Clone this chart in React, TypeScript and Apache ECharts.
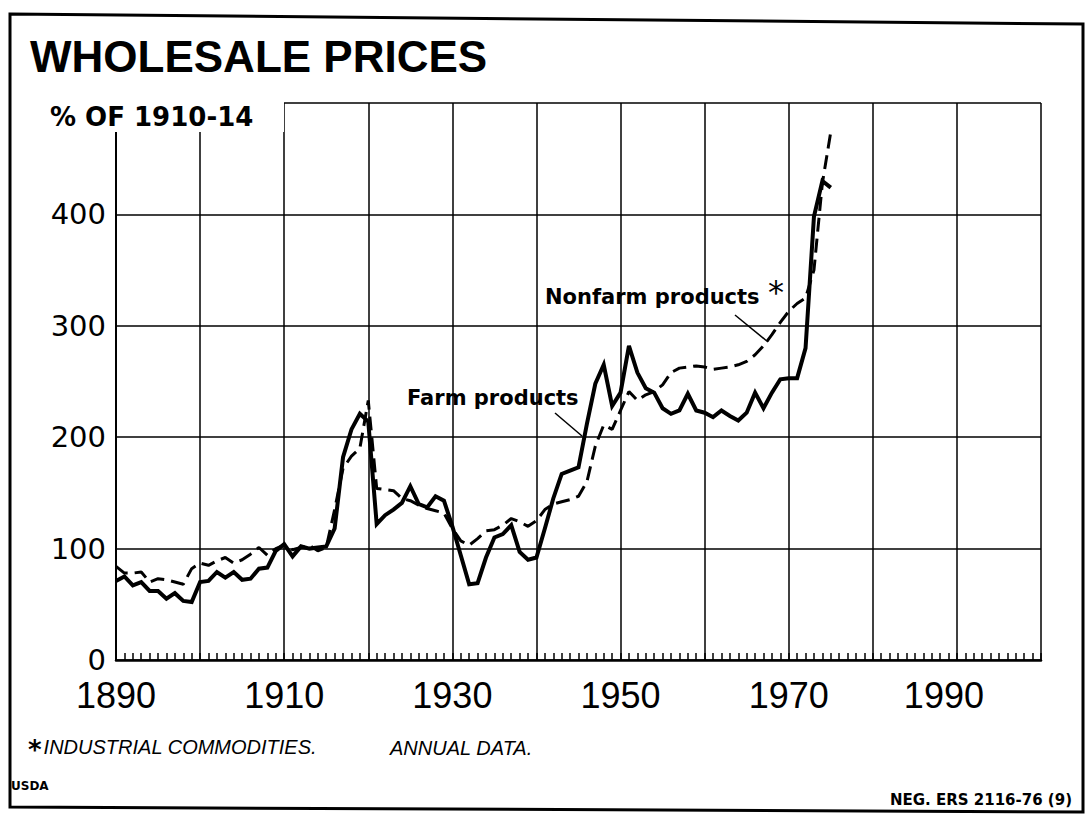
import React, { useEffect, useRef } from "react";
import * as echarts from "echarts";

const years = [
  1890, 1891, 1892, 1893, 1894, 1895, 1896, 1897, 1898, 1899,
  1900, 1901, 1902, 1903, 1904, 1905, 1906, 1907, 1908, 1909,
  1910, 1911, 1912, 1913, 1914, 1915, 1916, 1917, 1918, 1919,
  1920, 1921, 1922, 1923, 1924, 1925, 1926, 1927, 1928, 1929,
  1930, 1931, 1932, 1933, 1934, 1935, 1936, 1937, 1938, 1939,
  1940, 1941, 1942, 1943, 1944, 1945, 1946, 1947, 1948, 1949,
  1950, 1951, 1952, 1953, 1954, 1955, 1956, 1957, 1958, 1959,
  1960, 1961, 1962, 1963, 1964, 1965, 1966, 1967, 1968, 1969,
  1970, 1971, 1972, 1973, 1974, 1975,
];

const farmProducts = [
  71, 75, 67, 70, 62, 62, 55, 60, 53, 52,
  70, 71, 79, 74, 79, 72, 73, 82, 83, 98,
  104, 93, 102, 100, 101, 102, 118, 182, 207, 221,
  214, 122, 130, 135, 141, 156, 140, 137, 147, 143,
  120, 94, 68, 69, 92, 110, 113, 121, 97, 90,
  92, 118, 145, 167, 170, 173, 212, 248, 265, 228,
  240, 282, 258, 244, 240, 226, 221, 224, 239, 224,
  222, 218, 224, 219, 215, 222, 240, 226, 240, 252,
  253, 253, 280, 398, 430, 424,
];

const nonfarmProducts = [
  84, 78, 78, 79, 70, 73, 72, 70, 68, 82,
  87, 85, 89, 92, 87, 90, 95, 101, 94, 100,
  103, 99, 101, 103, 98, 101, 135, 172, 183, 190,
  233, 154, 153, 152, 145, 143, 139, 136, 134, 132,
  118, 107, 103, 109, 116, 117, 121, 127, 124, 120,
  125, 135, 140, 142, 144, 147, 160, 192, 211, 207,
  224, 241, 233, 238, 241, 247, 258, 262, 263, 264,
  263, 261, 262, 263, 265, 268, 274, 282, 292, 303,
  313, 320, 325, 350, 428, 474,
];

const xTickLabels = ["1890", "1910", "1930", "1950", "1970", "1990"];
const yTickLabels = ["0", "100", "200", "300", "400"];

export default function App() {
  const ref = useRef<HTMLDivElement>(null);

  useEffect(() => {
    if (!ref.current) return;
    const chart = echarts.init(ref.current, null, { renderer: "svg" });
    const xLabelFont = { fontFamily: "Liberation Sans", fontSize: 36, color: "#000", lineHeight: 36 };
    const option: any = {
      animation: false,
      backgroundColor: "#ffffff",
      textStyle: { fontFamily: "Liberation Sans", color: "#000" },
      grid: { left: 116, right: 44, top: 103, bottom: 155 },
      xAxis: {
        type: "value",
        min: 1890,
        max: 2000,
        interval: 10,
        axisLine: { show: true, lineStyle: { color: "#000", width: 2.5 } },
        axisTick: { show: true, inside: true, length: 7, lineStyle: { color: "#000", width: 1.5 } },
        minorTick: { show: true, splitNumber: 10, length: 7, lineStyle: { color: "#000", width: 1.5 } },
        splitLine: { show: true, lineStyle: { color: "#000", width: 1.5 } },
        axisLabel: {
          formatter: (v: number) => {
            const s = String(v);
            if (!xTickLabels.includes(s)) return "";
            return s === "1990" ? "{b|" + s + "}" : "{a|" + s + "}";
          },
          rich: {
            a: { ...xLabelFont },
            b: { ...xLabelFont, padding: [0, 26, 0, 0] },
          },
          ...xLabelFont,
          margin: 17,
        },
      },
      yAxis: {
        type: "value",
        min: 0,
        max: 500,
        interval: 100,
        axisLine: { show: true, lineStyle: { color: "#000", width: 2 } },
        axisTick: { show: false },
        splitLine: { show: true, lineStyle: { color: "#000", width: 1.5 } },
        axisLabel: {
          formatter: (v: number) => (yTickLabels.includes(String(v)) ? String(v) : ""),
          fontFamily: "DejaVu Sans",
          fontSize: 29,
          lineHeight: 26,
          color: "#000",
          margin: 10,
        },
      },
      series: [
        {
          name: "Farm products",
          type: "line",
          data: years.map((y, i) => [y, farmProducts[i]]),
          showSymbol: false,
          symbol: "none",
          lineStyle: { color: "#000", width: 4, join: "miter" },
          z: 4,
        },
        {
          name: "Nonfarm products",
          type: "line",
          data: years.map((y, i) => [y, nonfarmProducts[i]]),
          showSymbol: false,
          symbol: "none",
          lineStyle: { color: "#000", width: 3, type: [14, 7] },
          z: 3,
        },
      ],
      graphic: [
        {
          type: "polygon",
          shape: { points: [[10, 14], [1083, 24], [1083, 812], [10, 807]] },
          style: { fill: "none", stroke: "#000", lineWidth: 3 },
          z: 100,
        },
        {
          type: "rect",
          shape: { x: 100, y: 88, width: 184, height: 44 },
          style: { fill: "#fff" },
          z: 100,
        },
        {
          type: "text",
          x: 30,
          y: 56,
          style: {
            text: "WHOLESALE PRICES",
            fontFamily: "Liberation Sans",
            fontWeight: "bold",
            fontSize: 44,
            fill: "#000",
            verticalAlign: "middle",
          },
          z: 101,
        },
        {
          type: "text",
          x: 50,
          y: 117,
          style: {
            text: "% OF 1910-14",
            fontFamily: "DejaVu Sans",
            fontWeight: "bold",
            fontSize: 26,
            fill: "#000",
            verticalAlign: "middle",
          },
          z: 101,
        },
        {
          type: "text",
          x: 545,
          y: 297,
          style: {
            text: "Nonfarm products",
            fontFamily: "DejaVu Sans",
            fontWeight: "bold",
            fontSize: 21,
            fill: "#000",
            verticalAlign: "middle",
          },
          z: 101,
        },
        {
          type: "text",
          x: 768,
          y: 292,
          style: {
            text: "*",
            fontFamily: "DejaVu Sans",
            fontSize: 32,
            fill: "#000",
            verticalAlign: "middle",
          },
          z: 101,
        },
        {
          type: "line",
          shape: { x1: 735, y1: 315, x2: 768, y2: 342 },
          style: { stroke: "#000", lineWidth: 1.5 },
          z: 101,
        },
        {
          type: "text",
          x: 407,
          y: 398,
          style: {
            text: "Farm products",
            fontFamily: "DejaVu Sans",
            fontWeight: "bold",
            fontSize: 21,
            fill: "#000",
            verticalAlign: "middle",
          },
          z: 101,
        },
        {
          type: "line",
          shape: { x1: 555, y1: 413, x2: 582, y2: 436 },
          style: { stroke: "#000", lineWidth: 1.5 },
          z: 101,
        },
        {
          type: "text",
          x: 28,
          y: 747,
          style: {
            text: "{s|*}{t|INDUSTRIAL COMMODITIES.}",
            rich: {
              s: { fontFamily: "DejaVu Sans", fontWeight: "bold", fontSize: 26, fill: "#000", padding: [6, 2, 0, 0] },
              t: { fontFamily: "Liberation Sans", fontStyle: "italic", fontSize: 20, fill: "#000" },
            },
            verticalAlign: "middle",
          },
          z: 101,
        },
        {
          type: "text",
          x: 390,
          y: 748,
          style: {
            text: "ANNUAL DATA.",
            fontFamily: "Liberation Sans",
            fontStyle: "italic",
            fontSize: 20,
            fill: "#000",
            verticalAlign: "middle",
          },
          z: 101,
        },
        {
          type: "text",
          x: 11,
          y: 786,
          style: {
            text: "USDA",
            fontFamily: "DejaVu Sans",
            fontWeight: "bold",
            fontSize: 12,
            fill: "#000",
            verticalAlign: "middle",
          },
          z: 101,
        },
        {
          type: "text",
          x: 1072,
          y: 800,
          style: {
            text: "NEG. ERS 2116-76 (9)",
            fontFamily: "DejaVu Sans",
            fontWeight: "bold",
            fontSize: 15,
            fill: "#000",
            align: "right",
            verticalAlign: "middle",
          },
          z: 101,
        },
      ],
    };
    chart.setOption(option);
    return () => chart.dispose();
  }, []);

  return (
    <div
      ref={ref}
      style={{ position: "fixed", left: 0, top: 0, width: 1085, height: 815, background: "#fff" }}
    />
  );
}
